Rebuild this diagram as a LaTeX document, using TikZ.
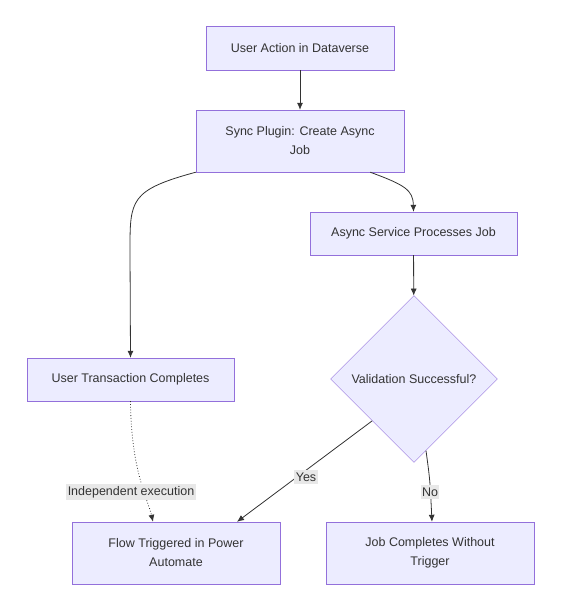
\documentclass[tikz,border=0pt]{standalone}
\usepackage{fontspec}
\setmainfont{Liberation Sans}
\usetikzlibrary{shapes.geometric,arrows.meta}
\definecolor{boxfill}{HTML}{ECECFF}
\definecolor{boxline}{HTML}{9370DB}
\definecolor{edgecol}{HTML}{333333}
\definecolor{lblbg}{HTML}{E8E8E8}
\tikzset{box/.style={rectangle,draw=boxline,fill=boxfill,align=center,inner sep=0pt,minimum width=208pt,minimum height=43pt,text=edgecol}}
\tikzset{tall/.style={minimum height=62pt}}
\tikzset{decide/.style={diamond,draw=boxline,fill=boxfill,align=center,inner sep=0pt,minimum width=167pt,minimum height=167pt,text=edgecol}}
\tikzset{arr/.style={draw=edgecol,line width=0.8pt,-{Latex[length=7pt,width=6pt]}}}
\tikzset{lbl/.style={fill=lblbg,inner xsep=1.5pt,inner ysep=2.5pt,text=edgecol}}

\begin{document}
\begin{tikzpicture}[x=1pt,y=-1pt,font=\fontsize{12.5}{19}\selectfont]
\useasboundingbox (0,0) rectangle (562,614);
\node[box,minimum width=188pt,minimum height=44pt](action) at (300,48) {User Action in Dataverse};
\node[box,tall](plugin) at (300,141) {Sync Plugin: Create Async\\Job};
\node[box,minimum width=207pt](service) at (413.5,233.5) {Async Service Processes Job};
\node[decide](valid) at (414,379) {Validation Successful?};
\node[box,minimum width=207pt](txn) at (130.5,379.5) {User Transaction Completes};
\node[box,tall](flow) at (176,553) {Flow Triggered in Power\\Automate};
\node[box,tall](done) at (430,553) {Job Completes Without\\Trigger};

\draw[arr] (action) -- (plugin);
\draw[arr] (plugin.south west) .. controls (130,190) and (130,200) .. (130,250) -- (txn.north);
\draw[arr] ([xshift=-34pt]plugin.south east) .. controls (405,185) and (413,190) .. (service.north);
\draw[arr] (service) -- (valid);
\draw[arr,dotted] (txn.south) .. controls (131,470) and (148,500) .. ([xshift=-23pt]flow.north);
\draw[arr] (valid.south west) -- ([xshift=61pt]flow.north);
\draw[arr] ([xshift=12pt,yshift=12pt]valid.south) .. controls (430,480) .. ([xshift=2pt]done.north);

\node[lbl](indep) at (131,492) {Independent execution};
\node[lbl](yes) at (306,477) {Yes};
\node[lbl](no) at (430,492) {No};
\end{tikzpicture}
\end{document}
